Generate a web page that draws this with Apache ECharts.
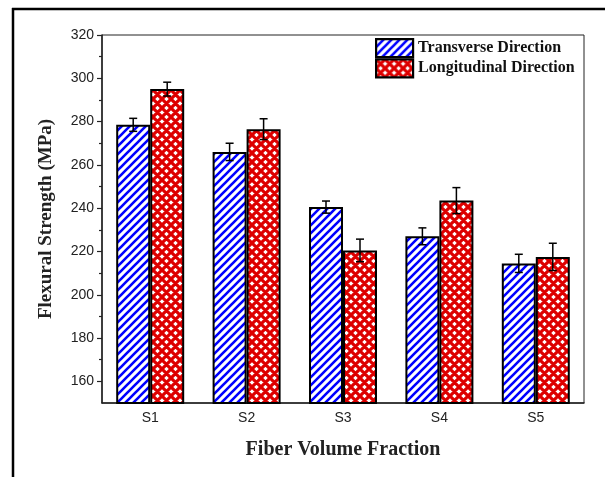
<!DOCTYPE html>
<html><head><meta charset="utf-8">
<script src="https://cdn.jsdelivr.net/npm/echarts@6/dist/echarts.min.js"></script>
<style>html,body{margin:0;padding:0;background:#fff}#c{width:615px;height:477px}</style>
</head><body><div id="c"></div>
<script>
const categories = ['S1', 'S2', 'S3', 'S4', 'S5'];
const transverse = [278.5, 266, 240.5, 227, 214.5];
const transverseErr = [3, 4, 2.8, 3.9, 4.2];
const longitudinal = [295, 276.5, 220.5, 243.5, 217.5];
const longitudinalErr = [3.2, 4.8, 5.2, 6, 6.3];
const majorTicks = [160, 180, 200, 220, 240, 260, 280, 300, 320];
const minorTicks = [170, 190, 210, 230, 250, 270, 290, 310];

function stripePattern() {
  const s = 8, c = document.createElement('canvas');
  c.width = s; c.height = s;
  const g = c.getContext('2d');
  g.fillStyle = '#fff'; g.fillRect(0, 0, s, s);
  g.strokeStyle = '#0000ff'; g.lineWidth = 2.6;
  g.beginPath();
  g.moveTo(-1, s + 1); g.lineTo(s + 1, -1);
  g.moveTo(-s / 2 - 1, s / 2 + 1); g.lineTo(s / 2 + 1, -s / 2 - 1);
  g.moveTo(s / 2 - 1, 3 * s / 2 + 1); g.lineTo(3 * s / 2 + 1, s / 2 - 1);
  g.stroke();
  return c;
}
function crossPattern() {
  const s = 9, c = document.createElement('canvas');
  c.width = s; c.height = s;
  const g = c.getContext('2d');
  g.fillStyle = '#fff'; g.fillRect(0, 0, s, s);
  g.strokeStyle = '#dd0000'; g.lineWidth = 3.2;
  g.beginPath();
  for (let k = -1; k <= 1; k++) {
    g.moveTo(k * s - 1, s + 1); g.lineTo(k * s + s + 1, -1);
    g.moveTo(k * s - 1, -1); g.lineTo(k * s + s + 1, s + 1);
  }
  g.stroke();
  return c;
}

const BW = 34;
function errData(vals, errs, sign) {
  return vals.map((v, i) => [i, v + errs[i], v - errs[i], sign]);
}
function renderErr(params, api) {
  const i = api.value(0);
  const top = api.coord([i, api.value(1)]);
  const bot = api.coord([i, api.value(2)]);
  const x = top[0] + api.value(3) * BW / 2;
  const cw = 4;
  const st = { stroke: '#000', lineWidth: 1.5 };
  return { type: 'group', children: [
    { type: 'line', shape: { x1: x, y1: top[1], x2: x, y2: bot[1] }, style: st },
    { type: 'line', shape: { x1: x - cw, y1: top[1], x2: x + cw, y2: top[1] }, style: st },
    { type: 'line', shape: { x1: x - cw, y1: bot[1], x2: x + cw, y2: bot[1] }, style: st }
  ]};
}

const chart = echarts.init(document.getElementById('c'), null, { renderer: 'canvas' });
const sansLabel = { fontFamily: 'Liberation Sans', fontSize: 14, color: '#222' };
chart.setOption({
  animation: false,
  grid: { left: 102, right: 31, top: 35, bottom: 74, show: true, borderColor: '#222', borderWidth: 1 },
  legend: {
    data: ['Transverse Direction', 'Longitudinal Direction'],
    orient: 'vertical', left: 375, top: 38, padding: 0, icon: 'rect',
    itemWidth: 37, itemHeight: 18, itemGap: 0,
    itemStyle: { borderWidth: 2.2, borderColor: '#000' },
    textStyle: { fontFamily: 'Liberation Serif', fontWeight: 'bold', fontSize: 16, lineHeight: 18, color: '#111' }
  },
  xAxis: [
    { type: 'category', data: categories, name: 'Fiber Volume Fraction', nameLocation: 'middle', nameGap: 37,
      nameTextStyle: { fontFamily: 'Liberation Serif', fontWeight: 'bold', fontSize: 20, color: '#222' },
      axisLine: { lineStyle: { color: '#222', width: 1.5 } },
      axisTick: { alignWithLabel: true, length: 5, lineStyle: { color: '#222', width: 1.2 } },
      axisLabel: Object.assign({ margin: 8 }, sansLabel) },
    { type: 'category', data: categories, position: 'bottom',
      axisLine: { show: false },
      axisTick: { length: 3, lineStyle: { color: '#222', width: 1.2 } },
      axisLabel: { show: false } }
  ],
  yAxis: [
    { type: 'value', min: 150, max: 320, interval: 10, position: 'left',
      name: 'Flexural Strength (MPa)', nameLocation: 'middle', nameGap: 46, nameRotate: 90,
      nameTextStyle: { fontFamily: 'Liberation Serif', fontWeight: 'bold', fontSize: 19, color: '#222' },
      splitLine: { show: false },
      axisLine: { show: true, lineStyle: { color: '#222', width: 1.5 } },
      axisTick: { show: true, customValues: majorTicks, length: 5, lineStyle: { color: '#222', width: 1.2 } },
      axisLabel: Object.assign({ customValues: majorTicks, margin: 8 }, sansLabel) },
    { type: 'value', min: 150, max: 320, interval: 10, position: 'left', offset: 0,
      splitLine: { show: false },
      axisLine: { show: false },
      axisTick: { show: true, customValues: minorTicks, length: 3, lineStyle: { color: '#222', width: 1.2 } },
      axisLabel: { show: false } }
  ],
  series: [
    { name: 'Transverse Direction', type: 'bar', data: transverse, barWidth: BW, barGap: '0%',
      itemStyle: { color: { image: stripePattern(), repeat: 'repeat' }, borderColor: '#000', borderWidth: 2 } },
    { name: 'Longitudinal Direction', type: 'bar', data: longitudinal, barWidth: BW, barGap: '0%',
      itemStyle: { color: { image: crossPattern(), repeat: 'repeat' }, borderColor: '#000', borderWidth: 2 } },
    { type: 'custom', data: errData(transverse, transverseErr, -1), renderItem: renderErr, z: 5,
      encode: { x: 0, y: [1, 2] } },
    { type: 'custom', data: errData(longitudinal, longitudinalErr, 1), renderItem: renderErr, z: 5,
      encode: { x: 0, y: [1, 2] } }
  ],
  graphic: [
    { type: 'line', shape: { x1: 12, y1: 9, x2: 605, y2: 9 }, style: { stroke: '#000', lineWidth: 2.5 } },
    { type: 'line', shape: { x1: 13, y1: 8, x2: 13, y2: 477 }, style: { stroke: '#000', lineWidth: 2.5 } }
  ]
});
</script></body></html>
